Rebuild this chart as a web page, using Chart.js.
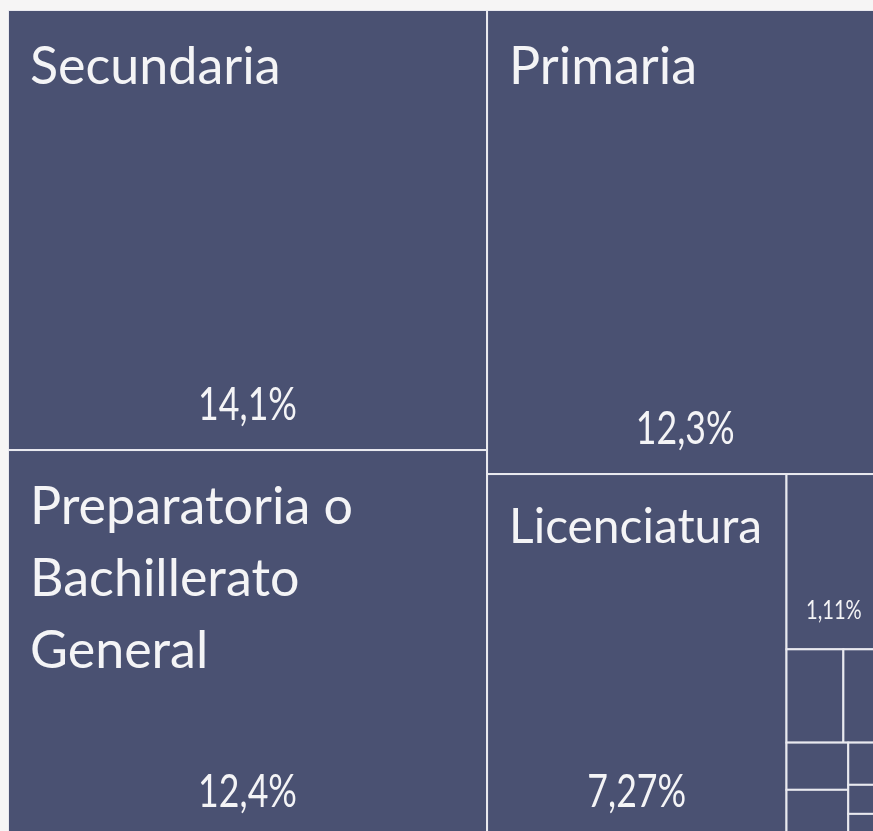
<!DOCTYPE html>
<html lang="es">
<head>
<meta charset="utf-8">
<title>Nivel de escolaridad</title>
<script src="https://cdn.jsdelivr.net/npm/chart.js@4.4.1/dist/chart.umd.min.js"></script>
<style>
  html, body { margin: 0; padding: 0; background: #f6f5f5; }
  #contenedor { width: 873px; height: 831px; position: relative; }
</style>
</head>
<body>
<div id="contenedor"><canvas id="mapa-escolaridad"></canvas></div>
<script>
// Datos (porcentajes; los "Otros" quedan fuera del recorte)
const categorias = [
  'Secundaria',
  'Preparatoria o Bachillerato General',
  'Primaria',
  'Otros',
  'Licenciatura',
  '', '', '', '', '', '', '', '',
  'Otros'
];
const porcentajes = [14.1, 12.4, 12.3, 28.94, 7.27, 1.11, 0.355, 0.236, 0.195, 0.195, 0.093, 0.064, 0.051, 22.69];

// como se agrupan los rectangulos: 'h' = lado a lado, 'v' = uno sobre otro
const arbol = ['h',
  ['v', 0, 1],
  ['v',
    ['h', 2, 3],
    ['h', 4, ['v', 5, ['h', 6, 7], ['h', ['v', 8, 9], ['v', 10, 11, 12]]], 13]
  ]
];

// marco completo del treemap y la parte que se ve (unidades de los ejes)
const ANCHO_MARCO = 218.6;
const ALTO_MARCO = 100;
const VISTA_X = 104.6;
const VISTA_Y = 99.27;

function suma(nodo) {
  if (typeof nodo === 'number') return porcentajes[nodo];
  return nodo.slice(1).reduce((t, n) => t + suma(n), 0);
}

function repartir(nodo, x0, y0, x1, y1, salida) {
  if (typeof nodo === 'number') {
    salida.push({ i: nodo, x0, y0, x1, y1 });
    return;
  }
  const total = suma(nodo);
  let pos = nodo[0] === 'h' ? x0 : y0;
  nodo.slice(1).forEach(hijo => {
    const parte = suma(hijo) / total;
    if (nodo[0] === 'h') {
      const fin = pos + (x1 - x0) * parte;
      repartir(hijo, pos, y0, fin, y1, salida);
      pos = fin;
    } else {
      const fin = pos + (y1 - y0) * parte;
      repartir(hijo, x0, pos, x1, fin, salida);
      pos = fin;
    }
  });
}

const celdas = [];
repartir(arbol, 0, 0, ANCHO_MARCO, ALTO_MARCO, celdas);

function formato(v) {
  return String(v).replace('.', ',') + '%';
}

function partirTexto(ctx, texto, ancho) {
  const palabras = texto.split(' ');
  const lineas = [];
  let actual = '';
  palabras.forEach(p => {
    const prueba = actual ? actual + ' ' + p : p;
    if (ctx.measureText(prueba).width > ancho && actual) {
      lineas.push(actual);
      actual = p;
    } else {
      actual = prueba;
    }
  });
  if (actual) lineas.push(actual);
  return lineas;
}

const FUENTE = 'Lato, "Open Sans", sans-serif';

const treemapPlugin = {
  id: 'treemap',
  beforeDatasetsDraw(chart) {
    const ctx = chart.ctx;
    const x = chart.scales.x;
    const y = chart.scales.y;
    const area = chart.chartArea;

    ctx.save();
    ctx.beginPath();
    ctx.rect(area.left, area.top, area.right - area.left, area.bottom - area.top);
    ctx.clip();

    celdas.forEach(c => {
      const left = x.getPixelForValue(c.x0);
      const right = x.getPixelForValue(c.x1);
      const top = y.getPixelForValue(c.y0);
      const bottom = y.getPixelForValue(c.y1);
      const w = right - left;
      const h = bottom - top;

      ctx.fillStyle = '#4a5172';
      ctx.fillRect(left, top, w, h);
      ctx.strokeStyle = '#e9e9ef';
      ctx.lineWidth = 2;
      ctx.strokeRect(left, top, w, h);

      ctx.fillStyle = '#f4f4f6';

      // nombre arriba a la izquierda
      const nombre = categorias[c.i];
      if (nombre && w > 200 && h > 150) {
        const tam = Math.min(52, w * 0.16);
        ctx.font = tam + 'px ' + FUENTE;
        ctx.textAlign = 'left';
        ctx.textBaseline = 'alphabetic';
        const lineas = partirTexto(ctx, nombre, w - 44);
        lineas.forEach((l, k) => {
          ctx.fillText(l, left + 22, top + tam * 1.43 + k * 72);
        });
      }

      // porcentaje abajo al centro (letra angosta)
      if (w > 80 && h > 80) {
        const tam = Math.min(47, w * 0.28);
        ctx.save();
        ctx.translate(left + w / 2, bottom - 30);
        ctx.scale(0.76, 1);
        ctx.font = tam + 'px ' + FUENTE;
        ctx.textAlign = 'center';
        ctx.textBaseline = 'alphabetic';
        ctx.fillText(formato(porcentajes[c.i]), 0, 0);
        ctx.restore();
      }
    });

    ctx.restore();
  }
};

const canvas = document.getElementById('mapa-escolaridad');
new Chart(canvas.getContext('2d'), {
  type: 'scatter',
  data: {
    datasets: [{
      label: 'Escolaridad',
      data: celdas.map(c => ({ x: (c.x0 + c.x1) / 2, y: (c.y0 + c.y1) / 2 })),
      pointRadius: 0,
      pointHoverRadius: 0
    }]
  },
  options: {
    responsive: true,
    maintainAspectRatio: false,
    animation: false,
    layout: { padding: { left: 8, top: 10, right: 0, bottom: 0 } },
    scales: {
      x: { type: 'linear', min: 0, max: VISTA_X, display: false },
      y: { type: 'linear', min: 0, max: VISTA_Y, reverse: true, display: false }
    },
    plugins: {
      legend: { display: false },
      tooltip: { enabled: false }
    }
  },
  plugins: [treemapPlugin]
});
</script>
</body>
</html>
